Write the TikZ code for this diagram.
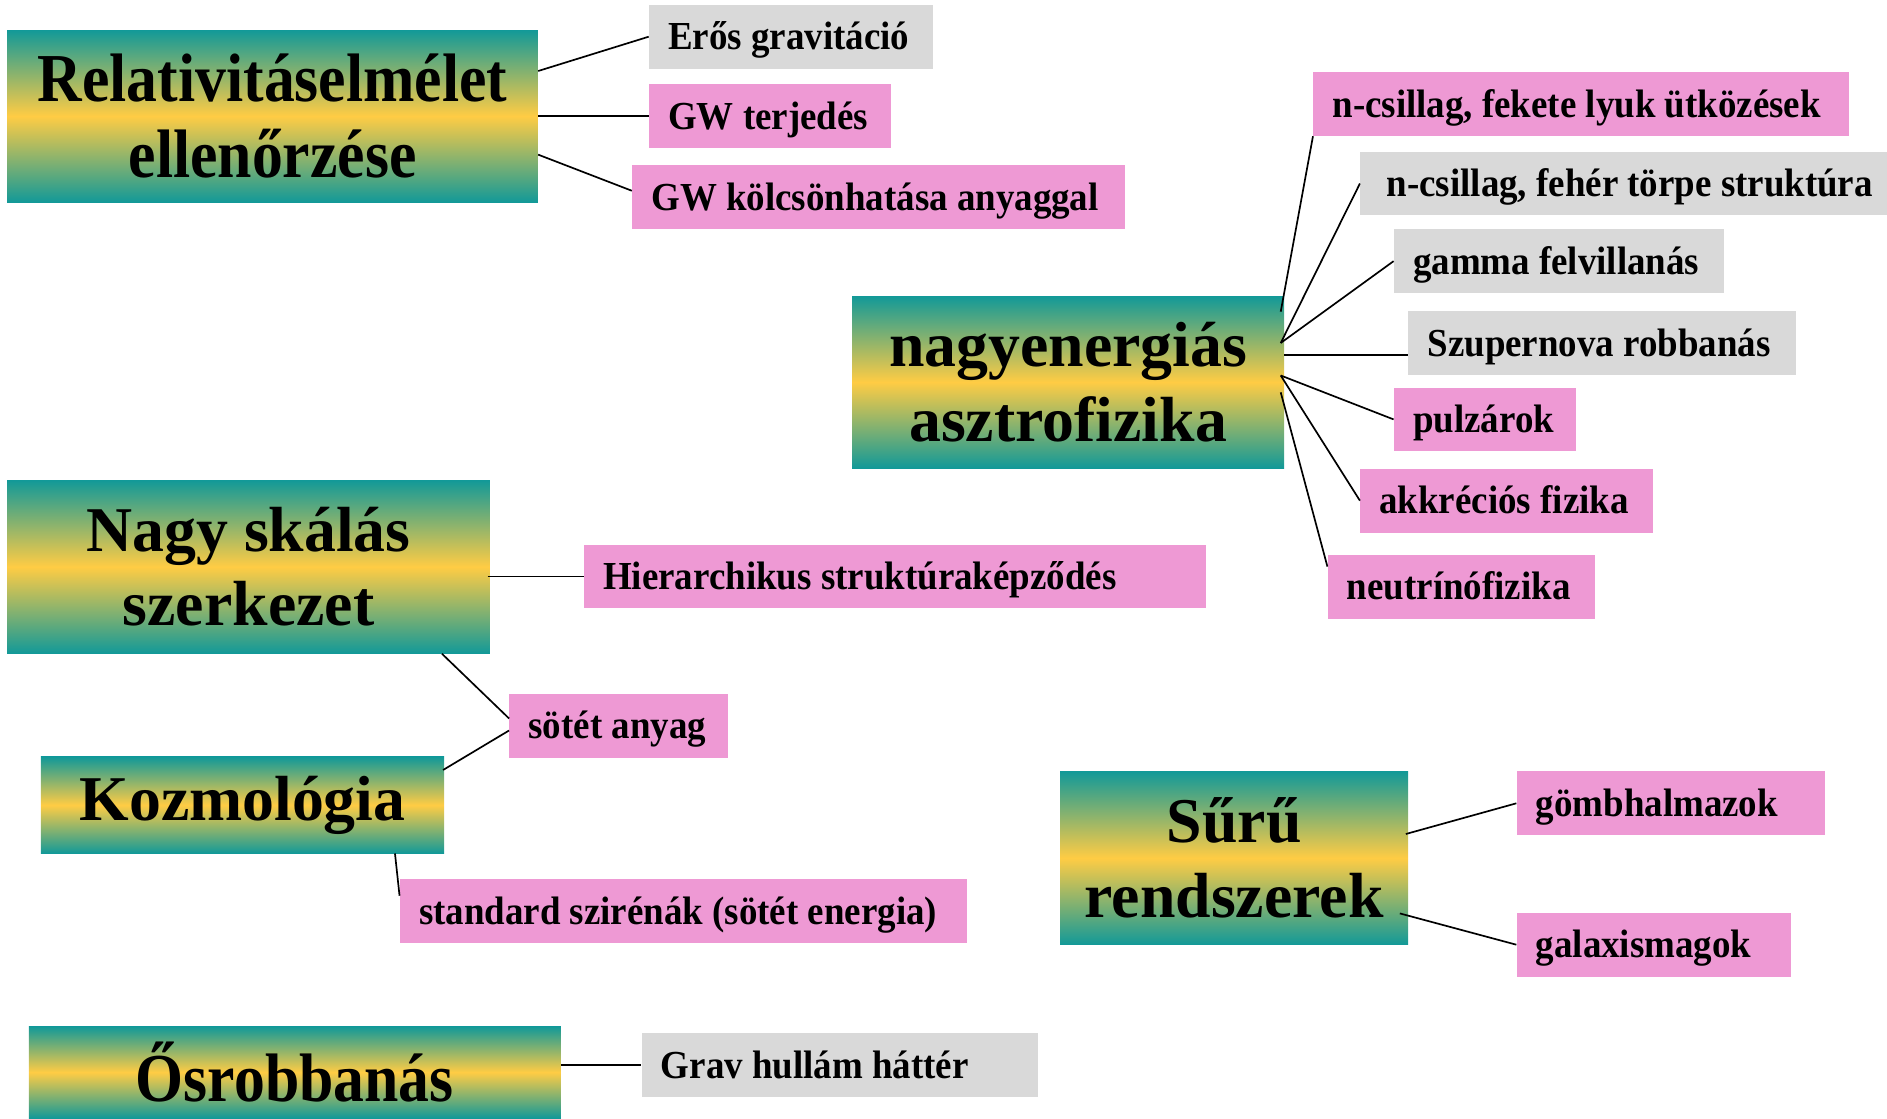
\documentclass[tikz,border=0pt]{standalone}
\usepackage{fontspec}
\setmainfont{Liberation Serif}
\newfontfamily\condfont[FakeStretch=0.9]{Liberation Serif}
\newfontfamily\leaffont[FakeStretch=0.93]{Liberation Serif}
\definecolor{gwteal}{RGB}{18,153,152}
\definecolor{gwgold}{RGB}{255,204,68}
\definecolor{gwpink}{RGB}{238,153,212}
\definecolor{gwgray}{RGB}{217,217,217}
% leaf text, left aligned in a fixed width
\newcommand{\leaftext}[2]{\makebox[#1][l]{#2}}

\begin{document}
\begin{tikzpicture}[x=1pt, y=-1pt,
  topic/.style={inner sep=0pt, align=center, top color=gwteal, bottom color=gwteal, middle color=gwgold, font=\bfseries\fontsize{53}{62}\selectfont},
  narrowtopic/.style={topic, font=\condfont\bfseries\fontsize{57}{63}\selectfont},
  leaf/.style={anchor=west, inner xsep=16pt, inner ysep=0pt, minimum height=53pt, text height=22pt, text depth=0pt, font=\leaffont\bfseries\fontsize{33}{36}\selectfont},
  pinkbox/.style={leaf, fill=gwpink},
  graybox/.style={leaf, fill=gwgray},
  link/.style={draw=black, line width=1.4pt}]
  \useasboundingbox (0,0) rectangle (1568,929);
  % Main topics
  \node[narrowtopic, minimum width=441pt, minimum height=143pt] (rel) at (226.5,96.5) {Relativitáselmélet\\ellenőrzése};
  \node[topic, minimum width=359pt, minimum height=143pt] (nagy) at (887.5,317.5) {nagyenergiás\\asztrofizika};
  \node[topic, minimum width=401pt, minimum height=144pt] (skala) at (206.5,471) {Nagy skálás\\szerkezet};
  \node[topic, minimum width=335pt, minimum height=80pt] (kozmo) at (201.5,669) {Kozmológia};
  \node[topic, minimum width=289pt, minimum height=144pt] (suru) at (1025.5,713) {Sűrű\\rendszerek};
  \node[narrowtopic, minimum width=442pt, minimum height=76pt] (osrob) at (245,891) {Ősrobbanás};
  % Relativity leaves (text box = box width - 32)
  \node[graybox] (eros) at (539,30.5) {\leaftext{204pt}{Erős gravitáció}};
  \node[pinkbox] (terj) at (539,96.5) {\leaftext{169pt}{GW terjedés}};
  \node[pinkbox] (kolcs) at (525,163.5) {\leaftext{378pt}{GW kölcsönhatása anyaggal}};
  % High energy leaves
  \node[pinkbox] (fekete) at (1091,86.5) {\leaftext{413pt}{n-csillag, fekete lyuk ütközések}};
  \node[graybox, inner xsep=22pt] (feher) at (1130,152.5) {\leaftext{418pt}{n-csillag, fehér törpe struktúra}};
  \node[graybox] (gamma) at (1158,217) {\leaftext{242pt}{gamma felvillanás}};
  \node[graybox] (szuper) at (1170,285) {\leaftext{290pt}{Szupernova robbanás}};
  \node[pinkbox] (pulzar) at (1158,348.5) {\leaftext{119pt}{pulzárok}};
  \node[pinkbox] (akkr) at (1130,416) {\leaftext{211pt}{akkréciós fizika}};
  \node[pinkbox] (neutr) at (1103,487.5) {\leaftext{190pt}{neutrínófizika}};
  % Structure, cosmology
  \node[pinkbox] (hier) at (485,479) {\leaftext{485pt}{Hierarchikus struktúraképződés}};
  \node[pinkbox] (sotet) at (423,603) {\leaftext{150pt}{sötét anyag}};
  \node[pinkbox] (standard) at (332,757) {\leaftext{439pt}{standard szirénák (sötét energia)}};
  % Dense systems, big bang
  \node[pinkbox] (gomb) at (1260,667.5) {\leaftext{224pt}{gömbhalmazok}};
  \node[pinkbox] (galax) at (1260,785) {\leaftext{196pt}{galaxismagok}};
  \node[graybox] (grav) at (533,885) {\leaftext{297pt}{Grav hullám háttér}};
  % Links
  \draw[link] ([yshift=37.5pt]rel.east) -- (eros.west);
  \draw[link] (rel.east) -- (terj.west);
  \draw[link] ([yshift=-32pt]rel.east) -- ([yshift=5pt]kolcs.west);
  \draw[link] ([xshift=-3pt,yshift=58.5pt]nagy.east) -- (fekete.south west);
  \draw[link] ([xshift=-3pt,yshift=32.5pt]nagy.east) -- (feher.west);
  \draw[link] ([xshift=-3pt,yshift=32.5pt]nagy.east) -- (gamma.west);
  \draw[link] ([yshift=22.5pt]nagy.east) -- ([yshift=-10pt]szuper.west);
  \draw[link] ([xshift=-3pt,yshift=5.5pt]nagy.east) -- (pulzar.west);
  \draw[link] ([xshift=-3pt,yshift=5.5pt]nagy.east) -- (akkr.west);
  \draw[link] ([xshift=-3pt,yshift=-8.5pt]nagy.east) -- ([yshift=-10pt]neutr.north west);
  \draw[link] ([xshift=-2pt,yshift=-8pt]skala.east) -- (hier.west);
  \draw[link] ([xshift=-40pt]skala.south east) -- ([yshift=6pt]sotet.west);
  \draw[link] ([xshift=-1pt,yshift=-11pt]kozmo.north east) -- ([yshift=-4pt]sotet.west);
  \draw[link] ([xshift=-41pt]kozmo.south east) -- ([yshift=-14pt]standard.north west);
  \draw[link] ([xshift=-2pt,yshift=20pt]suru.east) -- (gomb.west);
  \draw[link] ([xshift=-7pt,yshift=-46pt]suru.east) -- (galax.west);
  \draw[link] ([yshift=6pt]osrob.east) -- (grav.west);
\end{tikzpicture}
\end{document}
